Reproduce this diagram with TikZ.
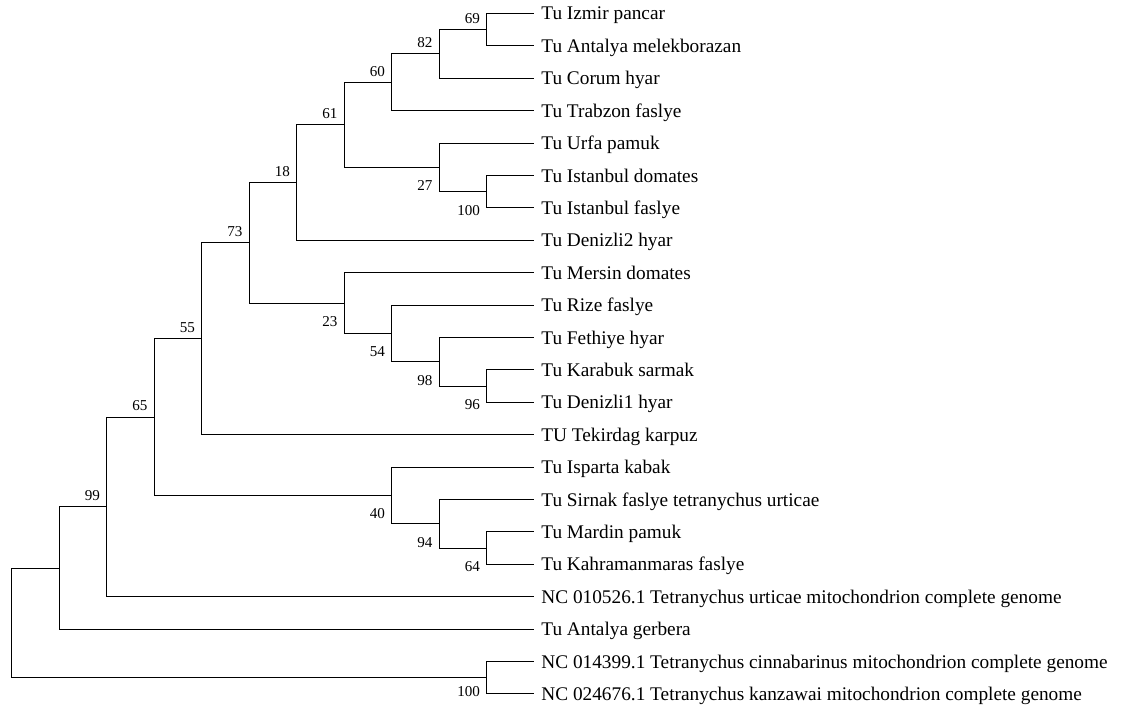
\documentclass[tikz,border=0pt]{standalone}
\usepackage{fontspec}
\setmainfont{Liberation Serif}
\begin{document}
\begin{tikzpicture}[x=1pt,y=-1pt,
  branch/.style={draw=black,line width=1pt},
  leaf/.style={anchor=base west,inner sep=0pt,font=\fontsize{19.3}{23}\selectfont},
  bs/.style={anchor=base east,inner sep=0pt,font=\fontsize{15.1}{18}\selectfont}]
\useasboundingbox (0,0) rectangle (1134,709);
% internal nodes
\coordinate (root) at (11.7,622.85);
\coordinate (nA) at (59.2,568);
\coordinate (n99) at (106.7,506.9);
\coordinate (n65) at (154.2,417.1);
\coordinate (n55) at (201.7,338.8);
\coordinate (n73) at (249.2,242.85);
\coordinate (n18) at (296.7,182.6);
\coordinate (n61) at (344.2,124.9);
\coordinate (n60) at (391.7,82.35);
\coordinate (n82) at (439.2,54);
\coordinate (n69) at (486.7,29.7);
\coordinate (n27) at (439.2,167.4);
\coordinate (n100a) at (486.7,191.7);
\coordinate (n23) at (344.2,303.1);
\coordinate (n54) at (391.7,333.45);
\coordinate (n98) at (439.2,361.8);
\coordinate (n96) at (486.7,386.1);
\coordinate (n40) at (391.7,495.45);
\coordinate (n94) at (439.2,523.8);
\coordinate (n64) at (486.7,548.1);
\coordinate (n100b) at (486.7,677.7);
% leaves
\foreach \i/\t in {1/Tu Izmir pancar,2/Tu Antalya melekborazan,3/Tu Corum hyar,4/Tu Trabzon faslye,5/Tu Urfa pamuk,6/Tu Istanbul domates,7/Tu Istanbul faslye,8/Tu Denizli2 hyar,9/Tu Mersin domates,10/Tu Rize faslye,11/Tu Fethiye hyar,12/Tu Karabuk sarmak,13/Tu Denizli1 hyar,14/TU Tekirdag karpuz,15/Tu Isparta kabak,16/Tu Sirnak faslye tetranychus urticae,17/Tu Mardin pamuk,18/Tu Kahramanmaras faslye,19/NC 010526.1 Tetranychus urticae mitochondrion complete genome,20/Tu Antalya gerbera,21/NC 014399.1 Tetranychus cinnabarinus mitochondrion complete genome,22/NC 024676.1 Tetranychus kanzawai mitochondrion complete genome}{
  \coordinate (l\i) at (534.2,{13.5+32.4*(\i-1)});
  \node[leaf] (t\i) at ([shift={(7,6.5)}]l\i) {\t};
}
% branches
\foreach \p/\c in {root/nA,root/n100b,nA/n99,nA/l20,n99/n65,n99/l19,n65/n55,n65/n40,n55/n73,n55/l14,n73/n18,n73/n23,n18/n61,n18/l8,n61/n60,n61/n27,n60/n82,n60/l4,n82/n69,n82/l3,n69/l1,n69/l2,n27/l5,n27/n100a,n100a/l6,n100a/l7,n23/l9,n23/n54,n54/l10,n54/n98,n98/l11,n98/n96,n96/l12,n96/l13,n40/l15,n40/n94,n94/l16,n94/n64,n64/l17,n64/l18,n100b/l21,n100b/l22}{
  \draw[branch] (\p) |- (\c);
}
% bootstrap values above
\foreach \n/\v in {n69/69,n82/82,n60/60,n61/61,n18/18,n73/73,n55/55,n65/65,n99/99}{
  \node[bs] (b\n) at ([shift={(-6.5,-6.3)}]\n) {\v};
}
% bootstrap values below
\foreach \n/\v in {n27/27,n100a/100,n23/23,n54/54,n98/98,n96/96,n40/40,n94/94,n64/64}{
  \node[bs] (b\n) at ([shift={(-6.5,23.5)}]\n) {\v};
}
\node[bs] (bn100b) at ([shift={(-6.5,19)}]n100b) {100};
\end{tikzpicture}
\end{document}
